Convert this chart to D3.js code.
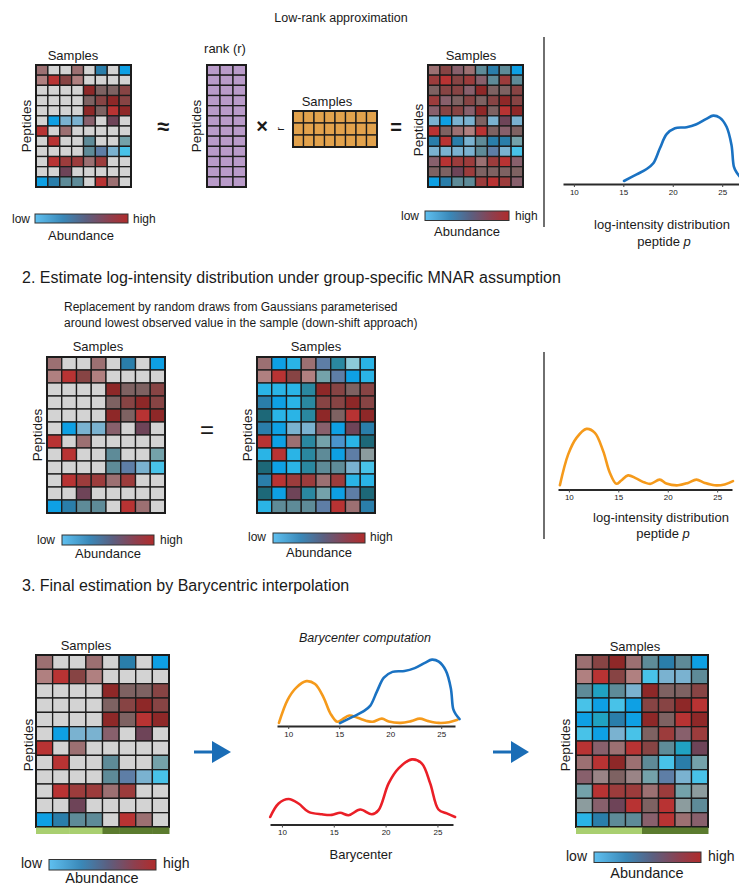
<!DOCTYPE html>
<html>
<head>
<meta charset="utf-8">
<script src="https://cdn.jsdelivr.net/npm/d3@7"></script>
<style>
  html, body { margin: 0; padding: 0; background: #fff; }
  svg { display: block; font-family: "Liberation Sans", Arial, Helvetica, sans-serif; }
  text { fill: #1a1a1a; }
</style>
</head>
<body>
<svg id="fig" width="739" height="886"></svg>
<script>
// ---- Data -------------------------------------------------------------
const sampleIds = d3.range(8);
const peptideIds = d3.range(12);
const rankIds = d3.range(3);

// Cell abundance levels (one letter per cell); '.' marks a missing value
const abundanceLevels = [".", "B", "b", "c", "e", "S", "T", "D", "C", "s", "g", "h", "w", "M", "a",
                         "R", "r", "k", "l", "n", "m", "p", "q", "v", "x"];
const abundanceColors = ["#d3d3d3", "#0ea0e4", "#2ab4e6", "#48c2e8", "#8ccad8", "#2a7eaa", "#2a88a0",
                         "#1d6878", "#20a2c2", "#7ab2d0", "#5e8b98", "#74a2aa", "#5e7ea6", "#4a94cc",
                         "#8c9c9e", "#b83333", "#8e2828", "#874444", "#9c3c3c", "#7e6262", "#9c7072",
                         "#b08080", "#88606c", "#6e4458", "#9a8486"];

// Observed matrix with missing values
const observedMatrix = [
  "m..m.S.B",
  "pRkp....",
  "....rnnk",
  "....nkrk",
  "....rnRr",
  ".Bssq.v.",
  "R.m.....",
  ".R..g..h",
  "....gwsc",
  ".Rllml..",
  "..v.....",
  "BSgg.Rm."
];

// Completed by low-rank approximation
const lowRankMatrix = [
  "mkqmgSgB",
  "lRklqglg",
  "nkkqrnnk",
  "lqnknkrk",
  "qkkqrnRr",
  "sBssnsvs",
  "RnmpRnqn",
  "SRSsgSSh",
  "ssssgwsc",
  "qRllmlRq",
  "nnvlnnnn",
  "BSgglRlq"
];

// Completed by down-shifted Gaussian draws
const downShiftMatrix = [
  "mBbmwTeb",
  "pRkphwBb",
  "bbbTrknk",
  "SBbTkkrk",
  "DbbTrnRr",
  "SBssqBvS",
  "RBmThMbD",
  "bRbTgBwa",
  "DBbTggsc",
  "SRllmlbb",
  "DBvThBwD",
  "bgggwRmS"
];

// Final barycentric estimate
const barycentricMatrix = [
  "mkrmgSgB",
  "pRkpcssg",
  "gCgsrnnk",
  "cBcBkkrR",
  "BCSBrnRr",
  "cBscnlql",
  "RqmRkgCv",
  "mRrmgcSh",
  "qxnxhwsc",
  "hRllmlha",
  "aqvRnRag",
  "bSggqRmq"
];

// Sample groups shown under the final heatmaps
const sampleGroups = ["A", "A", "A", "A", "B", "B", "B", "B"];

// Axis ticks for the log-intensity plots
const intensityTicks = [10, 15, 20, 25];

// Log-intensity densities for peptide p: [log-intensity, density]
const lowRankDensity = [
  [15.07, 0.010], [16.35, 0.032], [17.36, 0.050], [18.03, 0.069], [18.70, 0.119],
  [19.38, 0.166], [20.22, 0.186], [21.40, 0.189], [22.40, 0.199], [23.40, 0.217],
  [24.09, 0.228], [24.76, 0.221], [25.44, 0.191], [25.94, 0.130], [26.18, 0.058],
  [26.45, 0.039], [26.80, 0.024]
];
const downShiftDensity = [
  [9.09, 0.014], [9.93, 0.117], [10.77, 0.172], [11.78, 0.202], [12.63, 0.189],
  [13.47, 0.128], [14.14, 0.056], [14.80, 0.019], [15.30, 0.030], [15.99, 0.047],
  [16.80, 0.037], [17.68, 0.023], [18.28, 0.019], [19.19, 0.033], [19.86, 0.020],
  [21.04, 0.014], [22.05, 0.022], [22.90, 0.033], [23.74, 0.022], [24.75, 0.014],
  [25.76, 0.017], [26.60, 0.028]
];
const barycenterDensity = [
  [8.87, 0.025], [9.68, 0.070], [10.64, 0.085], [11.60, 0.070], [12.57, 0.042],
  [13.86, 0.034], [14.82, 0.032], [15.62, 0.039], [16.43, 0.031], [17.55, 0.050],
  [18.68, 0.034], [19.32, 0.048], [20.29, 0.137], [21.25, 0.187], [22.54, 0.217],
  [23.50, 0.203], [24.30, 0.137], [25.10, 0.050], [25.90, 0.037], [26.70, 0.025]
];

// ---- Styles -------------------------------------------------------------
const BLUE = "#1a72c2", ORANGE = "#f59a1b", RED = "#ea1f27", ARROW = "#1a6db6";
const GRID_STROKE = "#1c1c1c";

const svg = d3.select("#fig");
const cellColor = d3.scaleOrdinal(abundanceLevels, abundanceColors);
const groupColor = d3.scaleOrdinal(["A", "B"], ["#a9cf70", "#5b7b2e"]);

// Gradient for the abundance legends
const defs = svg.append("defs");
const grad = defs.append("linearGradient").attr("id", "abundance");
[[0, "#5fc0f0"], [0.3, "#3a88b8"], [0.55, "#5b5f80"], [0.8, "#8e3f4e"], [1, "#b02c2c"]]
  .forEach(([o, c]) => grad.append("stop").attr("offset", o).attr("stop-color", c));

function label(x, y, txt, size, opts = {}) {
  const t = svg.append("text")
    .attr("x", x).attr("y", y)
    .attr("font-size", size)
    .attr("text-anchor", opts.anchor || "middle")
    .text(txt);
  if (opts.italic) t.attr("font-style", "italic");
  if (opts.bold) t.attr("font-weight", "bold");
  if (opts.rotate) t.attr("transform", `rotate(-90,${x},${y})`);
  return t;
}

function grid(matrix, cols, rows, x0, y0, x1, y1, fill) {
  const x = d3.scaleBand().domain(cols).range([x0, x1]);
  const y = d3.scaleBand().domain(rows).range([y0, y1]);
  const g = svg.append("g");
  const cells = rows.flatMap(r => cols.map(c => ({ r, c, v: matrix ? matrix[r][c] : null })));
  g.selectAll("rect.cell").data(cells).join("rect")
    .attr("class", "cell")
    .attr("x", d => x(d.c)).attr("y", d => y(d.r))
    .attr("width", x.bandwidth()).attr("height", y.bandwidth())
    .attr("fill", d => fill || cellColor(d.v))
    .attr("stroke", GRID_STROKE).attr("stroke-width", 1.3);
  g.append("rect")
    .attr("x", x0).attr("y", y0).attr("width", x1 - x0).attr("height", y1 - y0)
    .attr("fill", "none").attr("stroke", GRID_STROKE).attr("stroke-width", 2);
  return { x, y };
}

function heatmap(matrix, x0, y0, x1, y1, withGroups) {
  const s = grid(matrix, sampleIds, peptideIds, x0, y0, x1, y1);
  if (withGroups) {
    svg.append("g").selectAll("rect").data(sampleGroups).join("rect")
      .attr("x", (d, i) => s.x(i)).attr("y", y1 + 0.5)
      .attr("width", s.x.bandwidth() + 0.5).attr("height", 6.5)
      .attr("fill", d => groupColor(d));
  }
  return s;
}

function legend(bx, by, bw, bh, lowX, highX, textY, abX, abY, size, abSize) {
  svg.append("rect").attr("x", bx).attr("y", by).attr("width", bw).attr("height", bh)
    .attr("fill", "url(#abundance)").attr("stroke", "#333").attr("stroke-width", 1);
  label(lowX, textY, "low", size, { anchor: "end" });
  label(highX, textY, "high", size, { anchor: "start" });
  label(abX, abY, "Abundance", abSize);
}

function densityPanel(x0, x1, dom, baseY, curves) {
  const x = d3.scaleLinear().domain(dom).range([x0, x1]);
  const g = svg.append("g");
  curves.forEach(c => {
    const y = d3.scaleLinear().domain([0, 0.25]).range([baseY, baseY - 75 * c.scale]);
    g.append("path").datum(c.data)
      .attr("fill", "none").attr("stroke", c.color).attr("stroke-width", 2.6)
      .attr("stroke-linecap", "round")
      .attr("d", d3.line().x(d => x(d[0])).y(d => y(d[1])).curve(d3.curveCatmullRom.alpha(0.5)));
  });
  const ax = g.append("g").attr("transform", `translate(0,${baseY})`)
    .call(d3.axisBottom(x).tickValues(intensityTicks).tickSize(3).tickSizeOuter(0).tickPadding(2));
  ax.select(".domain").attr("stroke", "#2a2a2a").attr("stroke-width", 1.8);
  ax.selectAll(".tick line").attr("stroke", "#444");
  ax.selectAll(".tick text").attr("font-size", 8).attr("fill", "#555")
    .attr("font-family", "'Liberation Sans', Arial, sans-serif");
}

function arrow(x0, xHead, x1, y) {
  svg.append("line").attr("x1", x0).attr("x2", xHead + 1).attr("y1", y).attr("y2", y)
    .attr("stroke", ARROW).attr("stroke-width", 3);
  svg.append("path")
    .attr("d", `M${xHead},${y - 11}L${x1},${y}L${xHead},${y + 11}Z`)
    .attr("fill", ARROW);
}

function divider(x, y0, y1) {
  svg.append("line").attr("x1", x).attr("x2", x).attr("y1", y0).attr("y2", y1)
    .attr("stroke", "#333").attr("stroke-width", 1.4);
}

// ---- 1. Low-rank approximation -------------------------------------------
label(341, 22, "Low-rank approximation", 12.5);

label(73, 60, "Samples", 13);
label(31, 126, "Peptides", 13.5, { rotate: true });
heatmap(observedMatrix, 36, 65, 131, 187);

label(163, 134, "≈", 22, { bold: true });

label(225, 53, "rank (r)", 13);
label(201, 126, "Peptides", 13.5, { rotate: true });
grid(null, rankIds, peptideIds, 207, 65, 246, 187, "#b99bc9");

label(262, 133, "×", 20, { bold: true });
label(284, 129, "r", 11, { rotate: true });

label(327, 106, "Samples", 13);
grid(null, sampleIds, rankIds, 293, 111, 377, 147, "#e2a24c");

label(396, 134, "=", 20, { bold: true });

label(471, 60, "Samples", 13);
label(423, 130, "Peptides", 13.5, { rotate: true });
heatmap(lowRankMatrix, 428, 65, 523, 187);

legend(35, 214, 93, 9, 30, 133, 223, 81, 240, 12, 13);
legend(425, 211, 84, 9.5, 419, 515, 220, 467, 236, 12, 13);

divider(544, 37, 227);
densityPanel(563, 740, [8.9, 26.8], 184, [{ data: lowRankDensity, color: BLUE, scale: 1 }]);
label(662, 229, "log-intensity distribution", 13);
svg.append("text").attr("x", 664).attr("y", 246).attr("font-size", 13).attr("text-anchor", "middle")
  .call(t => { t.append("tspan").text("peptide "); t.append("tspan").attr("font-style", "italic").text("p"); });

// ---- 2. Down-shift estimate ------------------------------------------------
label(22, 283, "2. Estimate log-intensity distribution under group-specific MNAR assumption", 16, { anchor: "start" });
label(64, 311, "Replacement by random draws from Gaussians parameterised", 12, { anchor: "start" });
label(64, 327, "around lowest observed value in the sample (down-shift approach)", 12, { anchor: "start" });

label(98, 351, "Samples", 13);
label(42, 435, "Peptides", 13.5, { rotate: true });
heatmap(observedMatrix, 47, 357, 165, 513);

label(207, 438, "=", 24);

label(316, 351, "Samples", 13);
label(252, 435, "Peptides", 13.5, { rotate: true });
heatmap(downShiftMatrix, 257, 357, 375, 513);

legend(62, 535, 92, 10, 55, 160, 544, 108, 558, 12, 13);
legend(273, 533, 92, 10, 266, 370, 541, 319, 557, 12, 13);

divider(544, 352, 539);
densityPanel(558, 732, [8.9, 26.5], 489.5, [{ data: downShiftDensity, color: ORANGE, scale: 1 }]);
label(661, 522, "log-intensity distribution", 13);
svg.append("text").attr("x", 663).attr("y", 538).attr("font-size", 13).attr("text-anchor", "middle")
  .call(t => { t.append("tspan").text("peptide "); t.append("tspan").attr("font-style", "italic").text("p"); });

// ---- 3. Barycentric interpolation -----------------------------------------
label(22, 591, "3. Final estimation by Barycentric interpolation", 16, { anchor: "start" });

label(86, 650, "Samples", 13);
label(33, 745, "Peptides", 13.5, { rotate: true });
heatmap(observedMatrix, 36, 655, 169, 827, true);
legend(49, 859.5, 107, 10.5, 42, 163, 868, 102, 883, 14, 14.5);

arrow(194, 212, 231, 752);

label(365, 642, "Barycenter computation", 12.5, { italic: true });
densityPanel(277, 455, [8.9, 26.35], 726, [
  { data: downShiftDensity, color: ORANGE, scale: 0.74 },
  { data: lowRankDensity, color: BLUE, scale: 0.97 }
]);
densityPanel(270, 453, [8.85, 26.5], 824.5, [{ data: barycenterDensity, color: RED, scale: 1 }]);
label(361, 859, "Barycenter", 13);

arrow(493, 511, 529, 752);

label(635, 651, "Samples", 13);
label(570, 745, "Peptides", 13.5, { rotate: true });
heatmap(barycentricMatrix, 576, 655, 708, 827, true);
legend(594, 852, 107, 10.5, 587, 708, 861, 647, 878, 14, 14.5);
</script>
</body>
</html>
